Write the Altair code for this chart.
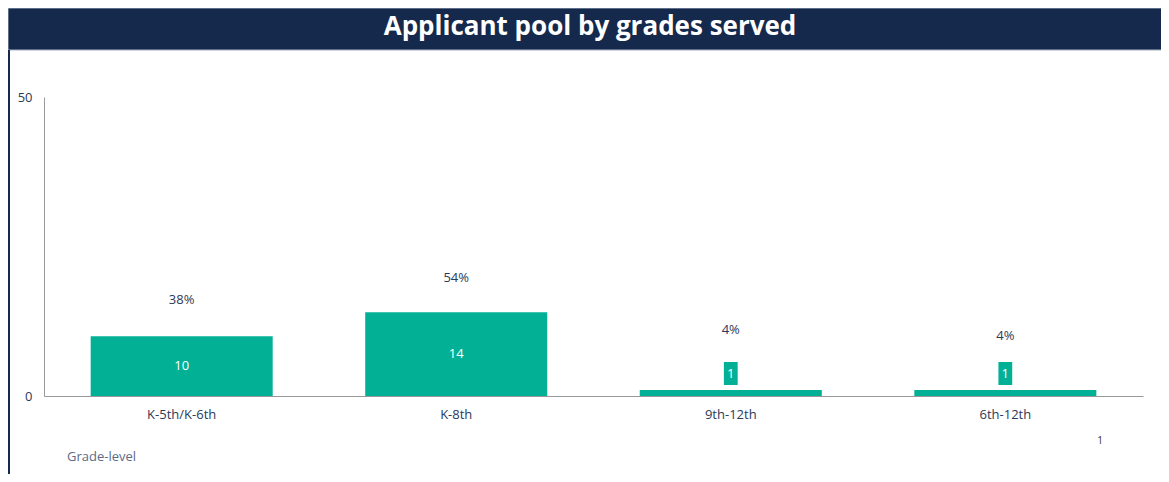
import altair as alt
import pandas as pd

categories = ["K-5th/K-6th", "K-8th", "9th-12th", "6th-12th"]
counts = [10, 14, 1, 1]
pct_labels = ["38%", "54%", "4%", "4%"]
pct_label_y = [16.05, 19.7, 11.0, 10.0]

title_text = "Applicant pool by grades served"
axis_title = "Grade-level"
footnote = "1"

NAVY = "#15294D"
GREEN = "#02B096"
TEXT = "#2B3A58"
FONT = "Open Sans"

df = pd.DataFrame({"cat": categories, "n": counts, "pct": pct_labels, "py": pct_label_y})
df["mid"] = df["n"] / 2

x_enc = alt.X("cat:N", sort=categories, title=None,
              scale=alt.Scale(paddingInner=0.337, paddingOuter=0.17),
              axis=alt.Axis(labelAngle=0, ticks=False, domainColor="#999999",
                            labelColor=TEXT, labelFont=FONT, labelFontSize=13,
                            labelPadding=12, grid=False))
y_scale = alt.Scale(domain=[0, 50], nice=False)

base = alt.Chart(df)

bars = base.mark_bar(color=GREEN).encode(
    x=x_enc,
    y=alt.Y("n:Q", scale=y_scale, title=None,
            axis=alt.Axis(values=[0, 50], ticks=False, grid=False, domainColor="#999999",
                          labelColor=TEXT, labelFont=FONT, labelFontSize=13, labelPadding=12)),
)

inner = base.transform_filter("datum.n >= 3").mark_text(
    color="white", font=FONT, fontSize=13, baseline="middle"
).encode(x=alt.X("cat:N", sort=categories), y=alt.Y("mid:Q", scale=y_scale), text="n:Q")

box = base.transform_filter("datum.n < 3").mark_point(
    shape="M-0.6,-1L0.6,-1L0.6,1L-0.6,1Z", filled=True, opacity=1, size=529,
    color=GREEN, strokeWidth=0, yOffset=-16.5
).encode(x=alt.X("cat:N", sort=categories), y=alt.Y("n:Q", scale=y_scale))

box_text = base.transform_filter("datum.n < 3").mark_text(
    color="white", font=FONT, fontSize=13, baseline="middle", dy=-16.5
).encode(x=alt.X("cat:N", sort=categories), y=alt.Y("n:Q", scale=y_scale), text="n:Q")

pct = base.mark_text(color=TEXT, font=FONT, fontSize=13, baseline="middle").encode(
    x=alt.X("cat:N", sort=categories), y=alt.Y("py:Q", scale=y_scale), text="pct:N")

deco = alt.Chart(pd.DataFrame({"t": [title_text]}))

header = deco.mark_rect(color=NAVY, stroke="#A9B4C4", strokeWidth=1).encode(
    x=alt.value(-36), x2=alt.value(1118), y=alt.value(-89), y2=alt.value(-47))

left_border = deco.mark_rule(color=NAVY, strokeWidth=2).encode(
    x=alt.value(-35), y=alt.value(-47), y2=alt.value(380))

title = deco.mark_text(color="white", font=FONT, fontWeight="bold", fontSize=26,
                       baseline="middle", align="center").encode(
    x=alt.value(546), y=alt.value(-70), text="t:N")

xlab = alt.Chart(pd.DataFrame({"t": [axis_title]})).mark_text(
    color="#5B6B88", font=FONT, fontSize=13, baseline="middle", align="left").encode(
    x=alt.value(23), y=alt.value(360), text="t:N")

foot = alt.Chart(pd.DataFrame({"t": [footnote]})).mark_text(
    color="#333333", font=FONT, fontSize=10, baseline="middle", align="center").encode(
    x=alt.value(1056), y=alt.value(344), text="t:N")

chart = alt.layer(header, left_border, title, bars, inner, box, box_text, pct, xlab, foot).properties(
    width=1099, height=299,
    padding={"left": 36, "top": 89, "right": 18, "bottom": 78},
    autosize=alt.AutoSizeParams(type="none"),
).configure_view(stroke=None)

chart.save("out.html", embed_options={"renderer": "svg", "actions": False})
